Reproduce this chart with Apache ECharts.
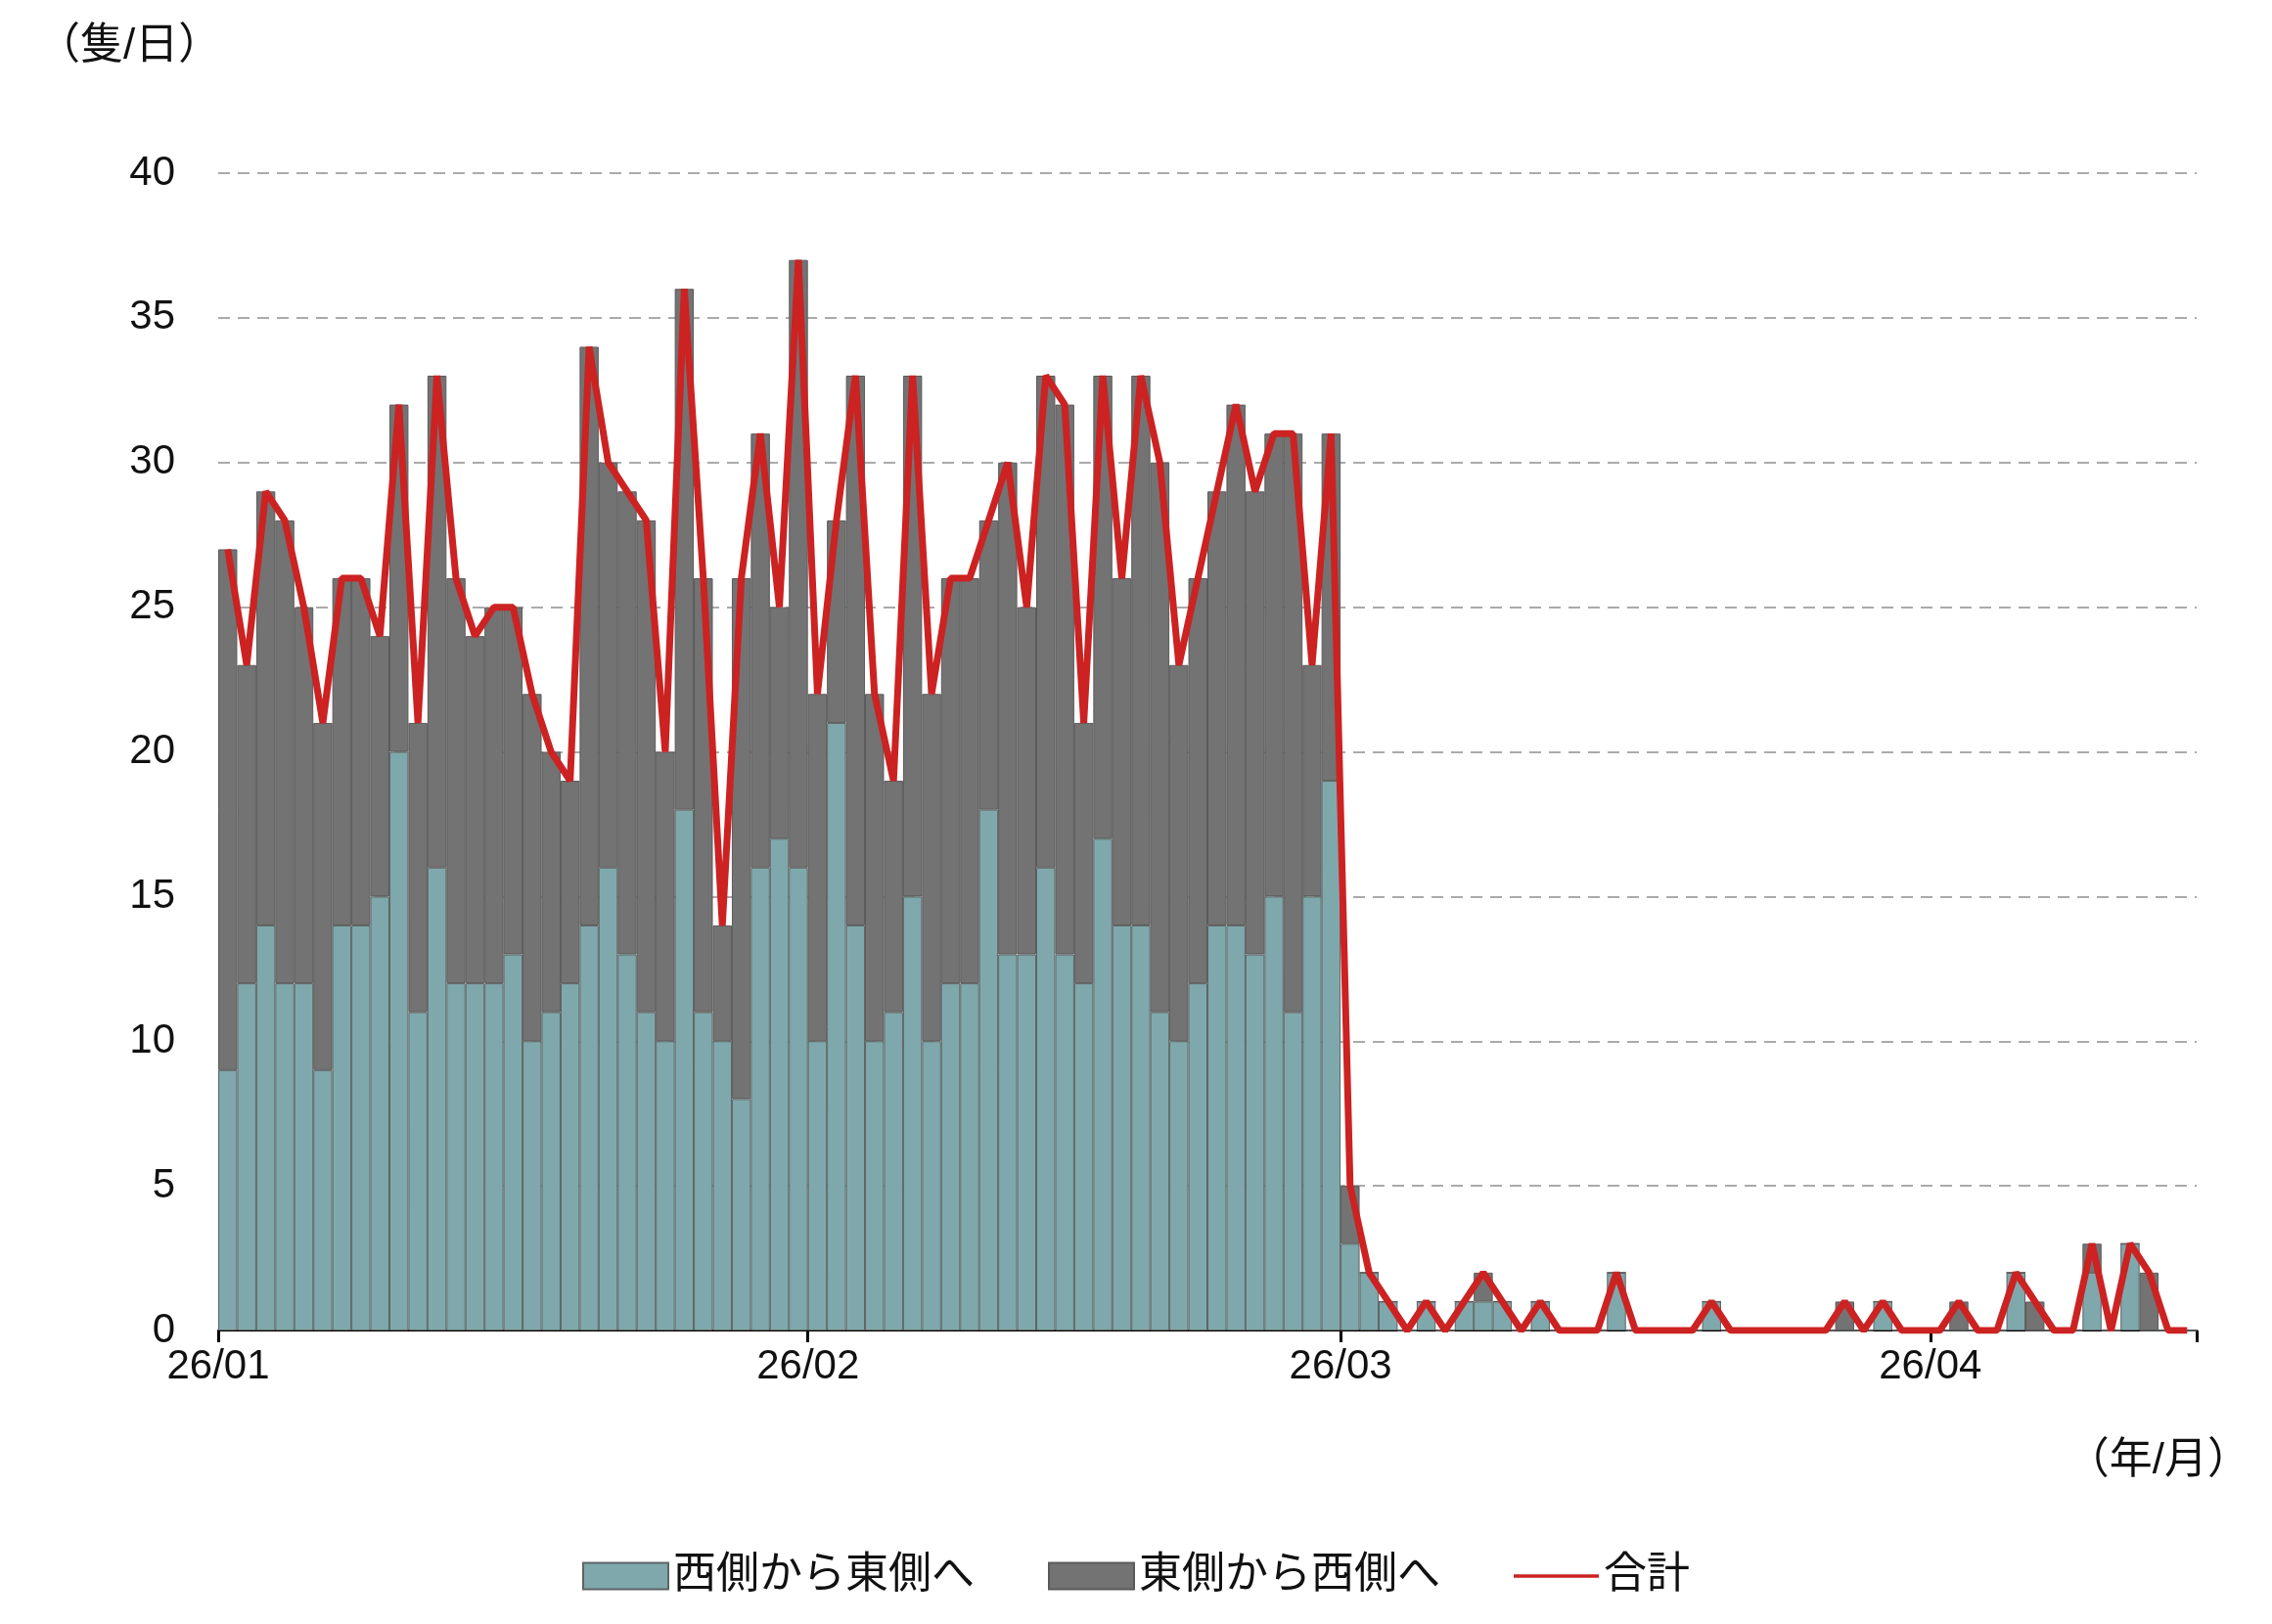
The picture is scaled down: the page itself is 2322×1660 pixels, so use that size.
<!DOCTYPE html>
<html>
<head>
<meta charset="UTF-8">
<title>隻/日</title>
<script src="https://cdn.jsdelivr.net/npm/echarts@6/dist/echarts.min.js"></script>
<style>
html,body{margin:0;padding:0;width:100%;height:100%;background:#fff;}
#chart{width:2322px;height:1660px;}
</style>
</head>
<body>
<div id="chart"></div>
<script>
// 日次データ 26/01/01 ~ 26/04/14
var westToEast = [
  9,12,14,12,12,9,14,14,15,20,11,16,12,12,12,13,10,11,12,14,16,13,11,10,18,11,10,8,16,17,16,
  10,21,14,10,11,15,10,12,12,18,13,13,16,13,12,17,14,14,11,10,12,14,14,13,15,11,15,19,
  3,2,1,0,1,0,1,1,1,0,1,0,0,0,2,0,0,0,0,1,0,0,0,0,0,0,0,0,1,0,0,
  0,0,0,0,2,0,0,0,2,0,3,0,0,0
];
var totals = [
  27,23,29,28,25,21,26,26,24,32,21,33,26,24,25,25,22,20,19,34,30,29,28,20,36,26,14,26,31,25,37,
  22,28,33,22,19,33,22,26,26,28,30,25,33,32,21,33,26,33,30,23,26,29,32,29,31,31,23,31,
  5,2,1,0,1,0,1,2,1,0,1,0,0,0,2,0,0,0,0,1,0,0,0,0,0,0,1,0,1,0,0,
  0,1,0,0,2,1,0,0,3,0,3,2,0,0
];
var monthStarts = [0,31,59,90];
var monthLabels = ['26/01','26/02','26/03','26/04'];
var yTicks = [0,5,10,15,20,25,30,35,40];

var nDays = totals.length;
var days = [], eastToWest = [];
for (var i = 0; i < nDays; i++) {
  days.push('d' + i);
  eastToWest.push(totals[i] - westToEast[i]);
}

var font = 'Arial, "Liberation Sans", "Noto Sans CJK JP", sans-serif';
var gridLeft = 223, gridRight = 77;
var barW = (2322 - gridLeft - gridRight) / nDays;
var lineIcon = 'path://M0,0L0.1,0L0.1,0.1Z M0,12H100V16H0Z M0,28L0.1,28L0.1,27.9Z';

var chart = echarts.init(document.getElementById('chart'));
chart.setOption({
  animation: false,
  textStyle: {fontFamily: font},
  grid: {left: gridLeft, right: gridRight, top: 177, bottom: 300, containLabel: false},
  graphic: [
    {type: 'text', left: 38, top: 26, style: {text: '（隻/日）', fill: '#111', font: '44px ' + font}},
    {type: 'text', right: 22, top: 1472, style: {text: '（年/月）', fill: '#111', font: '44px ' + font}}
  ],
  legend: {
    bottom: 22,
    left: 'center',
    itemWidth: 87,
    itemHeight: 27,
    itemGap: 75,
    textStyle: {fontSize: 44, color: '#111', fontFamily: font},
    data: [
      {name: '西側から東側へ', icon: 'rect'},
      {name: '東側から西側へ', icon: 'rect'},
      {name: '合計', icon: lineIcon}
    ]
  },
  xAxis: {
    type: 'category',
    data: days,
    boundaryGap: true,
    axisLine: {show: true, lineStyle: {color: '#000', width: 2}},
    axisTick: {
      show: true, length: 12, alignWithLabel: false,
      lineStyle: {color: '#000', width: 3},
      interval: function (idx) { return monthStarts.indexOf(idx) >= 0; }
    },
    axisLabel: {
      fontSize: 42, color: '#111', margin: 16,
      padding: [0, barW, 0, 0],
      interval: function (idx) { return monthStarts.indexOf(idx) >= 0; },
      formatter: function (v, idx) { return monthLabels[monthStarts.indexOf(idx)] || ''; }
    },
    splitLine: {show: false}
  },
  yAxis: {
    type: 'value',
    min: yTicks[0],
    max: yTicks[yTicks.length - 1],
    interval: 5,
    axisLine: {show: false},
    axisTick: {show: false},
    axisLabel: {fontSize: 42, color: '#111', margin: 44},
    splitLine: {show: true, lineStyle: {color: '#aaa', type: [12, 8], width: 2}}
  },
  series: [
    {
      name: '西側から東側へ', type: 'bar', stack: 'ships', barWidth: barW,
      itemStyle: {color: '#7fa8ac', borderColor: '#5e6464', borderWidth: 1},
      data: westToEast
    },
    {
      name: '東側から西側へ', type: 'bar', stack: 'ships', barWidth: barW,
      itemStyle: {color: '#737373', borderColor: '#5a5a5a', borderWidth: 1},
      data: eastToWest
    },
    {
      name: '合計', type: 'line', symbol: 'none', z: 5,
      lineStyle: {color: '#cc2222', width: 7},
      itemStyle: {color: '#cc2222'},
      data: totals
    }
  ]
});
</script>
</body>
</html>
